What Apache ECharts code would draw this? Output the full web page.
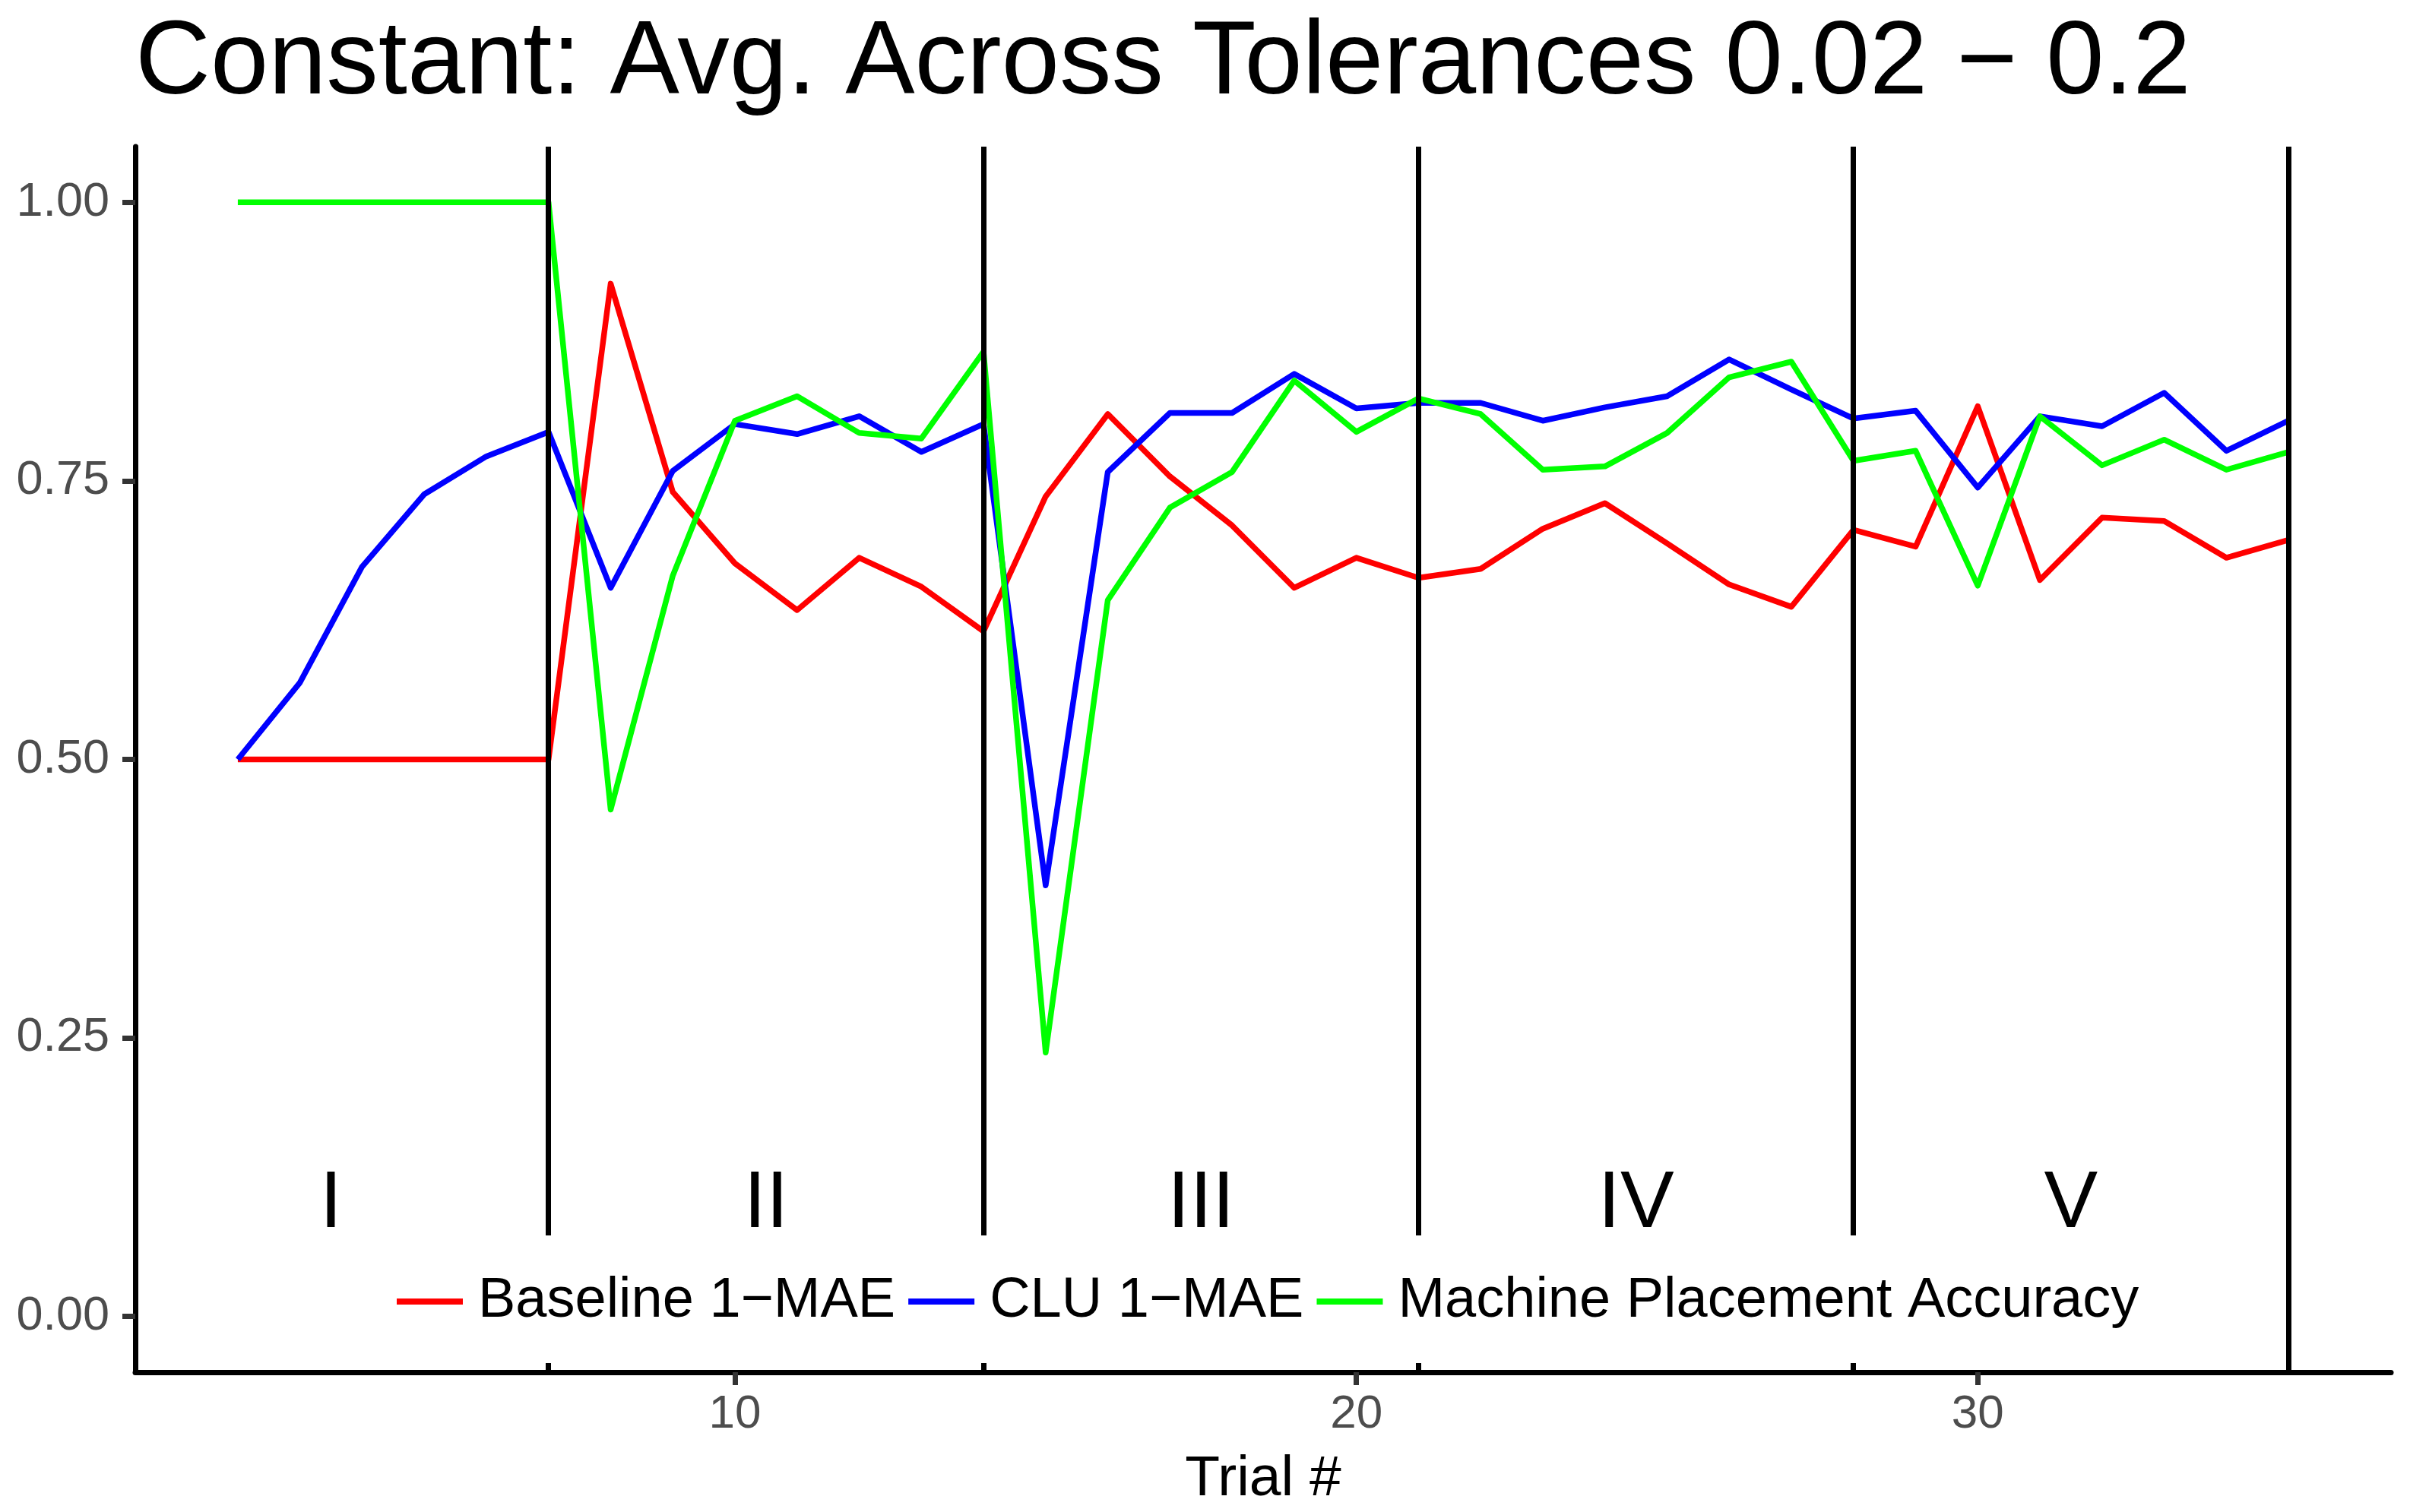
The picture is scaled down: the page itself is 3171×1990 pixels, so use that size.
<!DOCTYPE html>
<html>
<head>
<meta charset="utf-8">
<script src="https://cdn.jsdelivr.net/npm/echarts@6/dist/echarts.min.js"></script>
<style>
html,body{margin:0;padding:0;background:#fff;}
#c{width:3171px;height:1990px;}
</style>
</head>
<body>
<div id="c"></div>
<script>
// ---- data ----
const trials = [2,3,4,5,6,7,8,9,10,11,12,13,14,15,16,17,18,19,20,21,22,23,24,25,26,27,28,29,30,31,32,33,34,35];
const baseline = [0.5,0.5,0.5,0.5,0.5,0.5,0.927,0.740,0.676,0.634,0.681,0.655,0.615,0.736,0.810,0.754,0.710,0.654,0.681,0.663,0.671,0.707,0.730,0.694,0.657,0.637,0.706,0.691,0.817,0.661,0.717,0.714,0.681,0.697];
const clu = [0.5,0.569,0.673,0.738,0.772,0.794,0.654,0.759,0.801,0.792,0.808,0.776,0.801,0.387,0.758,0.811,0.811,0.846,0.815,0.820,0.820,0.804,0.816,0.826,0.859,0.832,0.806,0.813,0.744,0.808,0.799,0.829,0.777,0.804];
const machine = [1,1,1,1,1,1,0.455,0.665,0.804,0.826,0.793,0.788,0.866,0.237,0.643,0.726,0.758,0.840,0.794,0.824,0.810,0.760,0.763,0.793,0.843,0.857,0.768,0.777,0.656,0.808,0.764,0.787,0.760,0.776];
const seriesNames = ['Baseline 1\u2212MAE','CLU 1\u2212MAE','Machine Placement Accuracy'];
const phaseBounds = [7,14,21,28,35];
const phaseLabels = ['I','II','III','IV','V'];
const phaseLabelX = [3.5,10.5,17.5,24.5,31.5];
const phaseLabelY = 0.1;
const xTicks = [10,20,30];
const yTicks = [0,0.25,0.5,0.75,1];
const titleText = 'Constant: Avg. Across Tolerances 0.02 \u2212 0.2';
const xName = 'Trial #';

const FONT = 'Liberation Sans, Arial, Helvetica, sans-serif';
const colors = ['#FF0000','#0000FF','#00FF00'];
const values = [baseline, clu, machine];

function pairs(arr){ return trials.map((t,i)=>[t, arr[i]]); }

const lineSeries = seriesNames.map((name,i)=>({
  name: name,
  type: 'line',
  data: pairs(values[i]),
  showSymbol: false,
  symbol: 'none',
  z: 2,
  lineStyle: {color: colors[i], width: 7.5, join: 'round', cap: 'butt'},
  itemStyle: {color: colors[i]},
  emphasis: {disabled: true},
  animation: false
}));

const chart = echarts.init(document.getElementById('c'), null, {renderer: 'canvas'});
chart.setOption({
  animation: false,
  backgroundColor: '#ffffff',
  textStyle: {fontFamily: FONT},
  title: {
    text: titleText,
    left: 178,
    top: 17,
    padding: 0,
    textStyle: {fontSize: 137, fontWeight: 'normal', color: '#000', fontFamily: FONT}
  },
  grid: {left: 178, right: 25, top: 193, bottom: 178, containLabel: false},
  legend: {
    data: seriesNames,
    left: 492,
    top: 1626,
    padding: [50, 30, 44, 30],
    backgroundColor: '#ffffff',
    icon: 'rect',
    itemWidth: 87,
    itemHeight: 8,
    itemGap: 17,
    selectedMode: false,
    z: 10,
    textStyle: {fontSize: 74, color: '#000', fontFamily: FONT, padding: [0,0,0,15]}
  },
  xAxis: {
    type: 'value',
    min: 0.35,
    max: 36.65,
    splitLine: {show: false},
    axisLine: {show: true, onZero: false, lineStyle: {color: '#000', width: 7}},
    axisTick: {show: true, length: 17, customValues: xTicks, lineStyle: {color: '#333', width: 7}},
    axisLabel: {customValues: xTicks, fontSize: 62, color: '#4D4D4D', margin: 25, fontFamily: FONT},
    name: xName,
    nameLocation: 'middle',
    nameGap: 104,
    nameTextStyle: {fontSize: 75, color: '#000', fontFamily: FONT}
  },
  yAxis: {
    type: 'value',
    min: -0.05,
    max: 1.05,
    splitLine: {show: false},
    axisLine: {show: true, onZero: false, lineStyle: {color: '#000', width: 7}},
    axisTick: {show: true, length: 17, customValues: yTicks, lineStyle: {color: '#333', width: 7}},
    axisLabel: {customValues: yTicks, fontSize: 63, color: '#4D4D4D', margin: 34, fontFamily: FONT,
      formatter: v => Number(v).toFixed(2)}
  },
  series: lineSeries.concat([
    {
      name: 'phases',
      type: 'line',
      data: [],
      z: 3,
      silent: true,
      markLine: {
        silent: true,
        symbol: 'none',
        animation: false,
        label: {show: false},
        lineStyle: {color: '#000', width: 7, type: 'solid'},
        emphasis: {disabled: true},
        data: phaseBounds.map(x => ({xAxis: x}))
      }
    },
    {
      name: 'phaseLabels',
      type: 'scatter',
      symbolSize: 1,
      itemStyle: {opacity: 0},
      silent: true,
      z: 4,
      data: phaseLabelX.map((x,i) => ({value: [x, phaseLabelY], name: phaseLabels[i]})),
      label: {
        show: true,
        position: 'inside',
        formatter: p => p.name,
        fontSize: 106,
        color: '#000000',
        opacity: 1,
        textBorderWidth: 0,
        fontFamily: FONT
      }
    }
  ])
});
</script>
</body>
</html>
